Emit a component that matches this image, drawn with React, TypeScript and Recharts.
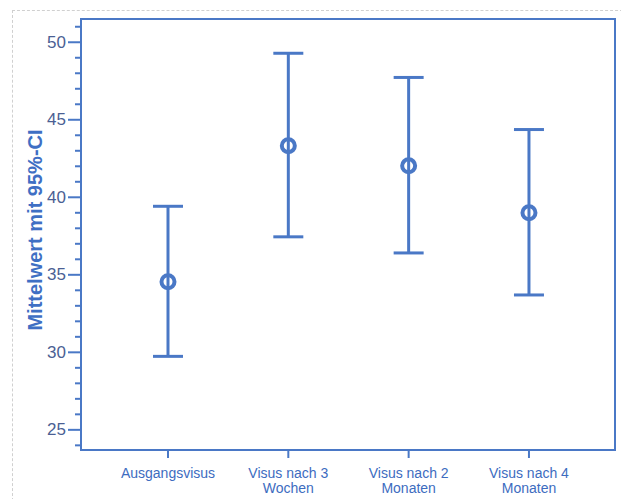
import React from 'react';
import { ScatterChart, Scatter, XAxis, YAxis, ErrorBar, ReferenceArea } from 'recharts';

const categories = [
  ['Ausgangsvisus'],
  ['Visus nach 3', 'Wochen'],
  ['Visus nach 2', 'Monaten'],
  ['Visus nach 4', 'Monaten'],
];
const means = [34.55, 43.33, 42.03, 39.0];
const lowerCI = [29.74, 37.45, 36.41, 33.7];
const upperCI = [39.42, 49.29, 47.73, 44.37];
const yTicks = [24, 25, 26, 27, 28, 29, 30, 31, 32, 33, 34, 35, 36, 37, 38, 39, 40, 41, 42, 43, 44, 45, 46, 47, 48, 49, 50, 51];

const X_DOMAIN: [number, number] = [0.277, 4.715];
const Y_DOMAIN: [number, number] = [23.7, 51.5];

const BLUE = '#4a78c6';
const TICK_TEXT = '#4b5f94';
const FONT = '"Liberation Sans", Arial, sans-serif';

const data = means.map((m, i) => ({
  x: i + 1,
  y: m,
  err: [m - lowerCI[i], upperCI[i] - m],
}));

const YTick = ({ x, y, payload }: any) => {
  const major = payload.value % 5 === 0;
  return (
    <g>
      <line x1={x - (major ? 13 : 6)} y1={y} x2={x} y2={y} stroke={BLUE} strokeWidth={2} />
      {major && (
        <text x={x - 15} y={y} textAnchor="end" dominantBaseline="central" fontSize={17} fontFamily={FONT} fill={TICK_TEXT}>
          {payload.value}
        </text>
      )}
    </g>
  );
};

const XTick = ({ x, y, payload }: any) => {
  const lines = categories[payload.value - 1] || [];
  return (
    <g>
      <line x1={x} y1={y} x2={x} y2={y + 8} stroke={BLUE} strokeWidth={2} />
      {lines.map((t, i) => (
        <text key={i} x={x} y={y + 23 + i * 15} textAnchor="middle" dominantBaseline="central" fontSize={14} fontFamily={FONT} fill="#3d6cbf">
          {t}
        </text>
      ))}
    </g>
  );
};

const Marker = ({ cx, cy }: any) => (
  <circle cx={cx} cy={cy} r={6.5} fill="none" stroke={BLUE} strokeWidth={4} />
);

export default function App() {
  return (
    <div style={{ position: 'absolute', left: 0, top: 0, width: 621, height: 499, background: '#fff' }}>
      <div style={{ position: 'absolute', left: 12, top: 10, width: 620, height: 500, borderLeft: '1px dashed #d0d0d0', borderTop: '1px dashed #d0d0d0' }} />
      <ScatterChart width={621} height={499} margin={{ top: 19, right: 6, bottom: 0, left: 0 }}>
        <XAxis
          type="number"
          dataKey="x"
          domain={X_DOMAIN}
          ticks={[1, 2, 3, 4]}
          allowDataOverflow
          height={49}
          tickSize={0}
          tickMargin={0}
          tickLine={false}
          axisLine={{ stroke: BLUE, strokeWidth: 2 }}
          tick={<XTick />}
          interval={0}
        />
        <YAxis
          type="number"
          dataKey="y"
          domain={Y_DOMAIN}
          ticks={yTicks}
          allowDataOverflow
          width={81}
          tickSize={0}
          tickMargin={0}
          tickLine={false}
          axisLine={{ stroke: BLUE, strokeWidth: 2 }}
          tick={<YTick />}
          interval={0}
          label={{
            content: () => (
              <text
                x={35}
                y={230}
                transform="rotate(-90 35 230)"
                textAnchor="middle"
                dominantBaseline="central"
                fontSize={20}
                fontWeight="bold"
                fontFamily={FONT}
                fill="#3f6fc4"
              >
                Mittelwert mit 95%-CI
              </text>
            ),
          }}
        />
        <ReferenceArea
          x1={X_DOMAIN[0]}
          x2={X_DOMAIN[1]}
          y1={Y_DOMAIN[0]}
          y2={Y_DOMAIN[1]}
          fill="none"
          stroke={BLUE}
          strokeWidth={2}
        />
        <Scatter data={data} shape={<Marker />} isAnimationActive={false}>
          <ErrorBar dataKey="err" direction="y" width={15} stroke={BLUE} strokeWidth={3} isAnimationActive={false} />
        </Scatter>
      </ScatterChart>
    </div>
  );
}
